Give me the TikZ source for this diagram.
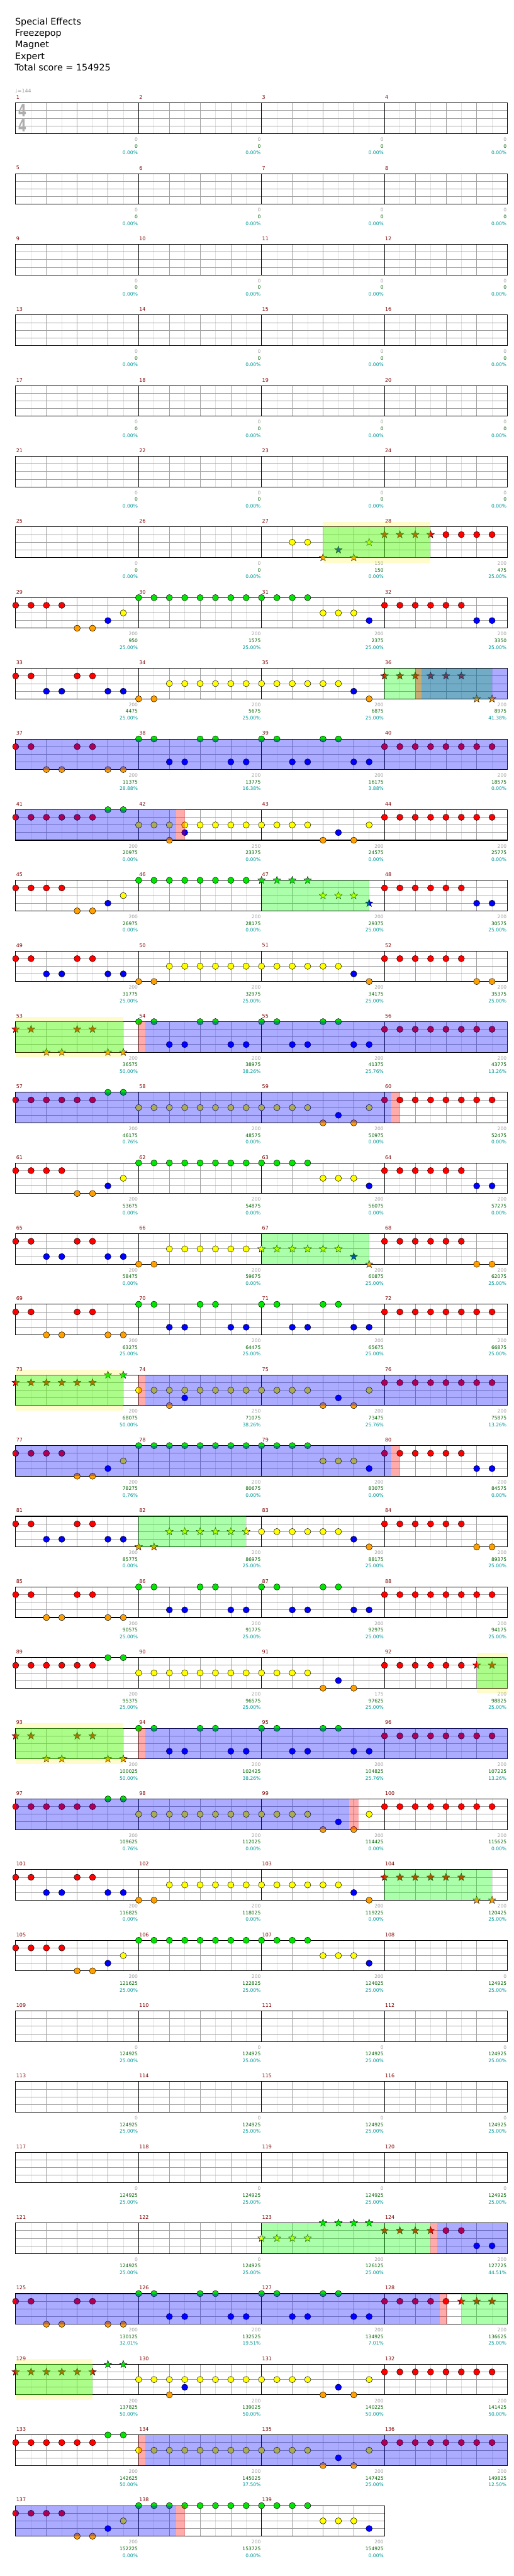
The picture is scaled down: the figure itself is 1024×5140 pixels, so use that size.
\documentclass[tikz,border=0pt]{standalone}
\usepackage{fontspec}
\setmainfont{DejaVu Sans}
\usetikzlibrary{shapes.geometric}

\definecolor{laneg}{RGB}{0,230,0}
\definecolor{laner}{RGB}{255,0,0}
\definecolor{laney}{RGB}{255,255,0}
\definecolor{laneb}{RGB}{0,0,255}
\definecolor{laneo}{RGB}{255,160,0}
\definecolor{gridgray}{RGB}{160,160,160}
\definecolor{gridlight}{RGB}{224,224,224}
\definecolor{barred}{RGB}{128,0,0}
\definecolor{basegray}{RGB}{160,160,160}
\definecolor{totalgreen}{RGB}{0,100,0}
\definecolor{pctcyan}{RGB}{0,150,150}

\tikzset{
  note/.style={circle, draw=black, line width=0.6pt, minimum size=12.5pt, inner sep=0pt},
  spnote/.style={star, star points=5, star point ratio=2.4, draw=black, line width=0.5pt, minimum size=16pt, inner sep=0pt},
  barnum/.style={text=barred, anchor=west, inner sep=0pt, font=\fontsize{10}{10}\selectfont},
  scorenum/.style={anchor=east, inner sep=0pt, font=\fontsize{9.5}{9.5}\selectfont},
  title/.style={anchor=base west, inner sep=0pt, font=\fontsize{18}{23}\selectfont},
  spzone/.style={fill=green, fill opacity=0.33},
  actzone/.style={fill=blue, fill opacity=0.33},
  gapzone/.style={fill=red, fill opacity=0.33},
  bestzone/.style={fill=yellow, fill opacity=0.2},
}

% measure m -> left edge \mxx, staff top \myy
\newcommand\setmeasure[1]{%
  \def\mnum{#1}%
  \pgfmathsetmacro\mxx{31.3+mod(#1-1,4)*245.2}%
  \pgfmathsetmacro\myy{205.5+floor((#1-1)/4)*141}}
\newcommand\putnote[3]{\node[#3, fill=lane#2] (n\mnum-\slot-#1) at (\mxx+\slot*30.65, \myy+#1*15.25) {};}

\makeatletter
\def\nt@g{\putnote{0}{g}{note}}\def\nt@G{\putnote{0}{g}{spnote}}
\def\nt@r{\putnote{1}{r}{note}}\def\nt@R{\putnote{1}{r}{spnote}}
\def\nt@y{\putnote{2}{y}{note}}\def\nt@Y{\putnote{2}{y}{spnote}}
\def\nt@b{\putnote{3}{b}{note}}\def\nt@B{\putnote{3}{b}{spnote}}
\def\nt@o{\putnote{4}{o}{note}}\def\nt@O{\putnote{4}{o}{spnote}}
% one measure of notes: lanes per eighth, slots split by dots
\newcommand\chart[2]{\setmeasure{#1}\def\slot{0}%
  \@tfor\ch:=#2\do{\if.\ch\pgfmathtruncatemacro\slot{\slot+1}\else\csname nt@\ch\endcsname\fi}}
\makeatother

% shaded bands, in eighths from the start of the row
\newcommand\olay[4]{\setmeasure{#2}\fill[#1] (\mxx+#3*30.65,\myy) rectangle (\mxx+#4*30.65,\myy+61);}
\newcommand\bestband[3]{\setmeasure{#1}\fill[bestzone] (\mxx+#2*30.65,\myy-10) rectangle (\mxx+#3*30.65,\myy+71);}

\newcommand\score[4]{\setmeasure{#1}%
  \node[scorenum, text=basegray] (b#1) at (\mxx+243.7,\myy+72.7) {#2};
  \node[scorenum, text=totalgreen] (t#1) at (\mxx+243.7,\myy+86) {#3};
  \node[scorenum, text=pctcyan] (p#1) at (\mxx+243.7,\myy+99.4) {#4\%};}

\begin{document}
\begin{tikzpicture}[x=1pt,y=-1pt]
\fill[white] (0,0) rectangle (1024,5140);
\useasboundingbox (0,0) rectangle (1024,5140);

% heading
\node[title] (song) at (30,49) {Special Effects};
\node[title] (band) at (30,72) {Freezepop};
\node[title] (inst) at (30,95) {Magnet};
\node[title] (diff) at (30,118) {Expert};
\node[title] (total) at (29,141) {Total score = 154925};
\node[anchor=west, inner sep=0pt, text=basegray, font=\fontsize{10}{10}\selectfont] (tempo) at (30,181) {♩=144};

% staves
\foreach \r in {0,...,34} {
  \pgfmathsetmacro\ry{205.5+\r*141}
  \ifnum\r=34 \def\nm{3}\else\def\nm{4}\fi
  \pgfmathsetmacro\rx{31.3+\nm*245.2}
  \pgfmathtruncatemacro\ns{\nm*8-1}
  \foreach \k in {1,3,...,\ns} \draw[gridlight, line width=0.7pt] (31.3+\k*30.65,\ry) -- ++(0,61);
  \foreach \k in {2,4,...,\ns} \draw[gridgray, line width=0.8pt] (31.3+\k*30.65,\ry) -- ++(0,61);
  \foreach \j in {1,2,3} \draw[gridgray, line width=1.1pt] (31.3,\ry+\j*15.25) -- (\rx,\ry+\j*15.25);
  \pgfmathtruncatemacro\nb{\nm-1}
  \foreach \k in {1,...,\nb} \draw[black, line width=0.8pt] (31.3+\k*245.2,\ry) -- ++(0,61);
  \draw[black, line width=1.3pt] (31.3,\ry) rectangle (\rx,\ry+61);
}
\node[text=gridgray!85, inner sep=0pt, font=\fontsize{34}{34}\bfseries\selectfont] (sigtop) at (44.5,221) {\scalebox{0.7}[1]{4}};
\node[text=gridgray!85, inner sep=0pt, font=\fontsize{34}{34}\bfseries\selectfont] (sigbot) at (44.5,251) {\scalebox{0.7}[1]{4}};

% measure numbers and scores
\foreach \m in {1,...,139} {\setmeasure{\m}\node[barnum] (m\m) at (\mxx+1,\myy-11.3) {\m};}
\foreach \m in {1,...,26} {\score{\m}{0}{0}{0.00}}
\foreach \m/\p/\t/\q in {27/150/150/0.00, 28/200/475/25.00,
  29/200/950/25.00, 30/200/1575/25.00, 31/200/2375/25.00, 32/200/3350/25.00,
  33/200/4475/25.00, 34/200/5675/25.00, 35/200/6875/25.00, 36/200/8975/41.38,
  37/200/11375/28.88, 38/200/13775/16.38, 39/200/16175/3.88, 40/200/18575/0.00,
  41/200/20975/0.00, 42/250/23375/0.00, 43/200/24575/0.00, 44/200/25775/0.00,
  45/200/26975/0.00, 46/200/28175/0.00, 47/200/29375/25.00, 48/200/30575/25.00,
  49/200/31775/25.00, 50/200/32975/25.00, 51/200/34175/25.00, 52/200/35375/25.00,
  53/200/36575/50.00, 54/200/38975/38.26, 55/200/41375/25.76, 56/200/43775/13.26,
  57/200/46175/0.76, 58/200/48575/0.00, 59/200/50975/0.00, 60/200/52475/0.00,
  61/200/53675/0.00, 62/200/54875/0.00, 63/200/56075/0.00, 64/200/57275/0.00,
  65/200/58475/0.00, 66/200/59675/0.00, 67/200/60875/25.00, 68/200/62075/25.00,
  69/200/63275/25.00, 70/200/64475/25.00, 71/200/65675/25.00, 72/200/66875/25.00,
  73/200/68075/50.00, 74/250/71075/38.26, 75/200/73475/25.76, 76/200/75875/13.26,
  77/200/78275/0.76, 78/200/80675/0.00, 79/200/83075/0.00, 80/200/84575/0.00,
  81/200/85775/0.00, 82/200/86975/25.00, 83/200/88175/25.00, 84/200/89375/25.00,
  85/200/90575/25.00, 86/200/91775/25.00, 87/200/92975/25.00, 88/200/94175/25.00,
  89/200/95375/25.00, 90/200/96575/25.00, 91/175/97625/25.00, 92/200/98825/25.00,
  93/200/100025/50.00, 94/200/102425/38.26, 95/200/104825/25.76, 96/200/107225/13.26,
  97/200/109625/0.76, 98/200/112025/0.00, 99/200/114425/0.00, 100/200/115625/0.00,
  101/200/116825/0.00, 102/200/118025/0.00, 103/200/119225/0.00, 104/200/120425/25.00,
  105/200/121625/25.00, 106/200/122825/25.00, 107/200/124025/25.00, 108/0/124925/25.00,
  109/0/124925/25.00, 110/0/124925/25.00, 111/0/124925/25.00, 112/0/124925/25.00,
  113/0/124925/25.00, 114/0/124925/25.00, 115/0/124925/25.00, 116/0/124925/25.00,
  117/0/124925/25.00, 118/0/124925/25.00, 119/0/124925/25.00, 120/0/124925/25.00,
  121/0/124925/25.00, 122/0/124925/25.00, 123/200/126125/25.00, 124/200/127725/44.51,
  125/200/130125/32.01, 126/200/132525/19.51, 127/200/134925/7.01, 128/200/136625/25.00,
  129/200/137825/50.00, 130/200/139025/50.00, 131/200/140225/50.00, 132/200/141425/50.00,
  133/200/142625/50.00, 134/200/145025/37.50, 135/200/147425/25.00, 136/200/149825/12.50,
  137/200/152225/0.00, 138/200/153725/0.00, 139/200/154925/0.00}
  {\score{\m}{\p}{\t}{\q}}

% notes
\chart{27}{..y.y.O.B.O.Y}
\chart{28}{R.R.R.R.r.r.r.r}
\chart{29}{r.r.r.r.o.o.b.y}
\chart{30}{g.g.g.g.g.g.g.g}
\chart{31}{g.g.g.g.y.y.y.b}
\chart{32}{r.r.r.r.r.r.b.b}
\chart{33}{r.r.b.b.r.r.b.b}
\chart{34}{o.o.y.y.y.y.y.y}
\chart{35}{y.y.y.y.y.y.b.o}
\chart{36}{R.R.R.R.R.R.O.O}
\chart{37}{r.r.o.o.r.r.o.o}
\chart{38}{g.g.b.b.g.g.b.b}
\chart{39}{g.g.b.b.g.g.b.b}
\chart{40}{r.r.r.r.r.r.r.r}
\chart{41}{r.r.r.r.r.r.g.g}
\chart{42}{y.y.yo.yb.y.y.y.y}
\chart{43}{y.y.y.y.o.b.o.y}
\chart{44}{r.r.r.r.r.r.r.r}
\chart{45}{r.r.r.r.o.o.b.y}
\chart{46}{g.g.g.g.g.g.g.g}
\chart{47}{G.G.G.G.Y.Y.Y.B}
\chart{48}{r.r.r.r.r.r.b.b}
\chart{49}{r.r.b.b.r.r.b.b}
\chart{50}{o.o.y.y.y.y.y.y}
\chart{51}{y.y.y.y.y.y.b.o}
\chart{52}{r.r.r.r.r.r.o.o}
\chart{53}{R.R.O.O.R.R.O.O}
\chart{54}{g.g.b.b.g.g.b.b}
\chart{55}{g.g.b.b.g.g.b.b}
\chart{56}{r.r.r.r.r.r.r.r}
\chart{57}{r.r.r.r.r.r.g.g}
\chart{58}{y.y.y.y.y.y.y.y}
\chart{59}{y.y.y.y.o.b.o.y}
\chart{60}{r.r.r.r.r.r.r.r}
\chart{61}{r.r.r.r.o.o.b.y}
\chart{62}{g.g.g.g.g.g.g.g}
\chart{63}{g.g.g.g.y.y.y.b}
\chart{64}{r.r.r.r.r.r.b.b}
\chart{65}{r.r.b.b.r.r.b.b}
\chart{66}{o.o.y.y.y.y.y.y}
\chart{67}{Y.Y.Y.Y.Y.Y.B.O}
\chart{68}{r.r.r.r.r.r.o.o}
\chart{69}{r.r.o.o.r.r.o.o}
\chart{70}{g.g.b.b.g.g.b.b}
\chart{71}{g.g.b.b.g.g.b.b}
\chart{72}{r.r.r.r.r.r.r.r}
\chart{73}{R.R.R.R.R.R.G.G}
\chart{74}{y.y.yo.yb.y.y.y.y}
\chart{75}{y.y.y.y.o.b.o.y}
\chart{76}{r.r.r.r.r.r.r.r}
\chart{77}{r.r.r.r.o.o.b.y}
\chart{78}{g.g.g.g.g.g.g.g}
\chart{79}{g.g.g.g.y.y.y.b}
\chart{80}{r.r.r.r.r.r.b.b}
\chart{81}{r.r.b.b.r.r.b.b}
\chart{82}{O.O.Y.Y.Y.Y.Y.Y}
\chart{83}{y.y.y.y.y.y.b.o}
\chart{84}{r.r.r.r.r.r.o.o}
\chart{85}{r.r.o.o.r.r.o.o}
\chart{86}{g.g.b.b.g.g.b.b}
\chart{87}{g.g.b.b.g.g.b.b}
\chart{88}{r.r.r.r.r.r.r.r}
\chart{89}{r.r.r.r.r.r.g.g}
\chart{90}{y.y.y.y.y.y.y.y}
\chart{91}{y.y.y.y.o.b.o.}
\chart{92}{r.r.r.r.r.r.R.R}
\chart{93}{R.R.O.O.R.R.O.O}
\chart{94}{g.g.b.b.g.g.b.b}
\chart{95}{g.g.b.b.g.g.b.b}
\chart{96}{r.r.r.r.r.r.r.r}
\chart{97}{r.r.r.r.r.r.g.g}
\chart{98}{y.y.y.y.y.y.y.y}
\chart{99}{y.y.y.y.o.b.o.y}
\chart{100}{r.r.r.r.r.r.r.r}
\chart{101}{r.r.b.b.r.r.b.b}
\chart{102}{o.o.y.y.y.y.y.y}
\chart{103}{y.y.y.y.y.y.b.o}
\chart{104}{R.R.R.R.R.R.O.O}
\chart{105}{r.r.r.r.o.o.b.y}
\chart{106}{g.g.g.g.g.g.g.g}
\chart{107}{g.g.g.g.y.y.y.b}
\chart{123}{Y.Y.Y.Y.G.G.G.G}
\chart{124}{R.R.R.R.r.r.b.b}
\chart{125}{r.r.o.o.r.r.o.o}
\chart{126}{g.g.b.b.g.g.b.b}
\chart{127}{g.g.b.b.g.g.b.b}
\chart{128}{r.r.r.r.r.R.R.R}
\chart{129}{R.R.R.R.R.R.G.G}
\chart{130}{y.y.yo.yb.y.y.y.y}
\chart{131}{y.y.y.y.o.b.o.y}
\chart{132}{r.r.r.r.r.r.r.r}
\chart{133}{r.r.r.r.r.r.g.g}
\chart{134}{y.y.y.y.y.y.y.y}
\chart{135}{y.y.y.y.o.b.o.y}
\chart{136}{r.r.r.r.r.r.r.r}
\chart{137}{r.r.r.r.o.o.b.y}
\chart{138}{g.g.g.g.g.g.g.g}
\chart{139}{g.g.g.g.y.y.y.b}

% star power, activation and gaps
\bestband{25}{20}{27}\olay{spzone}{25}{20}{27}
\olay{spzone}{33}{24}{31}\olay{gapzone}{33}{26}{26.43}\olay{actzone}{33}{26.43}{32}
\olay{actzone}{37}{0}{32}
\olay{actzone}{41}{0}{10.43}\olay{gapzone}{41}{10.43}{11}
\olay{spzone}{45}{16}{23}
\bestband{53}{0}{7}\olay{spzone}{53}{0}{7}\olay{gapzone}{53}{8}{8.43}\olay{actzone}{53}{8.43}{32}
\olay{actzone}{57}{0}{24.46}\olay{gapzone}{57}{24.46}{25}
\olay{spzone}{65}{16}{23}
\bestband{73}{0}{7}\olay{spzone}{73}{0}{7}\olay{gapzone}{73}{8}{8.43}\olay{actzone}{73}{8.43}{32}
\olay{actzone}{77}{0}{24.46}\olay{gapzone}{77}{24.46}{25}
\olay{spzone}{81}{8}{15}
\bestband{89}{30}{32}\olay{spzone}{89}{30}{32}
\bestband{93}{0}{7}\olay{spzone}{93}{0}{7}\olay{gapzone}{93}{8}{8.43}\olay{actzone}{93}{8.43}{32}
\olay{actzone}{97}{0}{21.7}\olay{gapzone}{97}{21.7}{22.3}
\olay{spzone}{101}{24}{31}
\olay{spzone}{121}{16}{27}\olay{gapzone}{121}{27}{27.43}\olay{actzone}{121}{27.43}{32}
\olay{actzone}{125}{0}{27.6}\olay{gapzone}{125}{27.6}{28.1}\olay{spzone}{125}{29}{32}
\bestband{129}{0}{5}\olay{spzone}{129}{0}{5}
\olay{gapzone}{133}{8}{8.43}\olay{actzone}{133}{8.43}{32}
\olay{actzone}{137}{0}{10.43}\olay{gapzone}{137}{10.43}{11}
\end{tikzpicture}
\end{document}
